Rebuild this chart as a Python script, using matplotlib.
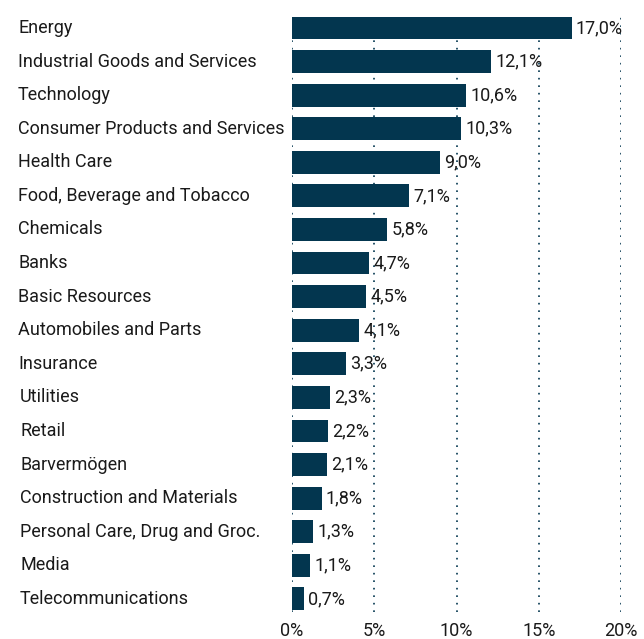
import matplotlib
matplotlib.use('Agg')
from matplotlib import pyplot as plt
from matplotlib.transforms import blended_transform_factory

plt.rcParams['font.family'] = ['Roboto', 'DejaVu Sans']

# sector weights in percent, top to bottom
sectors = [
    'Energy', 'Industrial Goods and Services', 'Technology',
    'Consumer Products and Services', 'Health Care', 'Food, Beverage and Tobacco',
    'Chemicals', 'Banks', 'Basic Resources', 'Automobiles and Parts', 'Insurance',
    'Utilities', 'Retail', 'Barvermögen', 'Construction and Materials',
    'Personal Care, Drug and Groc.', 'Media', 'Telecommunications',
]
weights = [17.0, 12.1, 10.6, 10.3, 9.0, 7.1, 5.8, 4.7, 4.5, 4.1, 3.3,
           2.3, 2.2, 2.1, 1.8, 1.3, 1.1, 0.7]
x_ticks = [0, 5, 10, 15, 20]

bar_color = '#03364f'
text_color = '#1a1a1a'

W, H = 644, 639
fig = plt.figure(figsize=(W / 100, H / 100), dpi=100, facecolor='white')
ax = fig.add_axes([292 / W, (H - 612) / H, (621 - 292) / W, 600 / H])

pos = list(range(len(sectors)))
ax.barh(pos, weights, height=0.68, color=bar_color, zorder=2)

ax.set_xlim(0, 20)
ax.set_ylim(17.39, -0.476)

# dotted vertical gridlines, also at 0
for t in x_ticks:
    ax.axvline(t, color=bar_color, linestyle=(0, (1, 3.5)), linewidth=1.2, zorder=1)

for s in ax.spines.values():
    s.set_visible(False)
ax.set_yticks([])
ax.set_xticks(x_ticks)
ax.set_xticklabels([f'{t}%' for t in x_ticks])
ax.tick_params(axis='x', length=0, pad=7, labelsize=13, labelcolor=text_color)

# value labels after each bar
for p, w in zip(pos, weights):
    ax.text(w + 0.25, p, f'{w:.1f}%'.replace('.', ','), va='center', ha='left',
            fontsize=13, color=text_color)

# category labels at the left edge of the figure
trans = blended_transform_factory(fig.transFigure, ax.transData)
for p, name in zip(pos, sectors):
    x0 = 18 if p < 11 else 20
    ax.text(x0 / W, p, name, transform=trans, va='center', ha='left',
            fontsize=13, color=text_color)

plt.savefig('out.png', dpi=100, facecolor='white')
